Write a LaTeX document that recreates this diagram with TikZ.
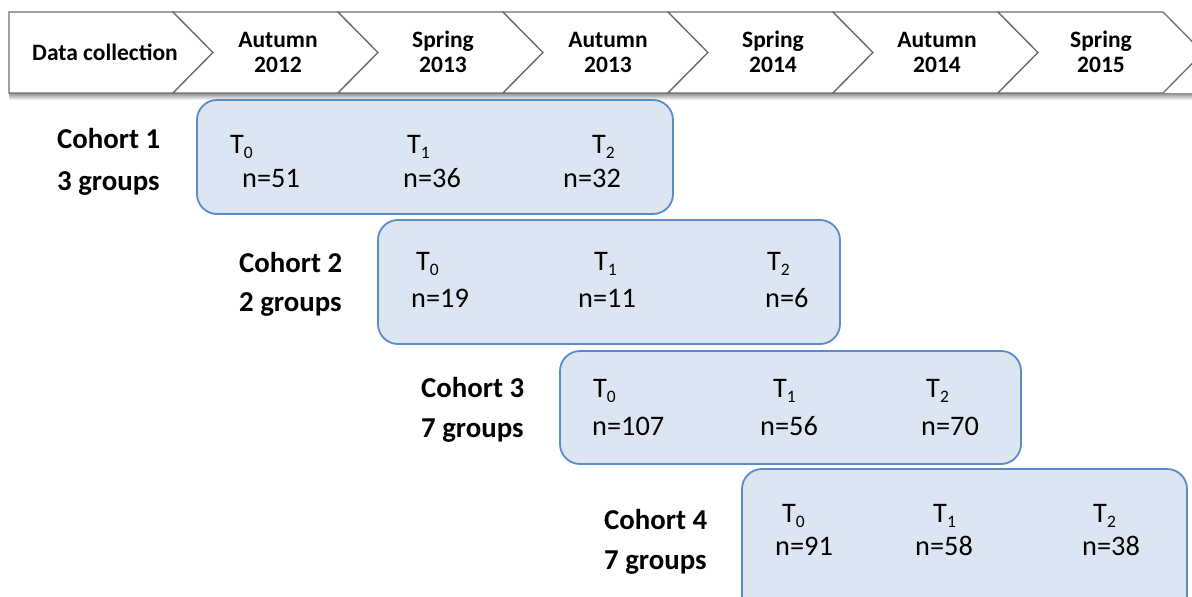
\documentclass[tikz,border=0pt]{standalone}
\usepackage{fontspec}
\setmainfont{Carlito}
\definecolor{boxfill}{RGB}{220,230,242}
\definecolor{boxline}{RGB}{91,139,201}
\definecolor{bannerline}{RGB}{110,110,110}
\newcommand\mysub[1]{\raisebox{-5.5pt}{\fontsize{17.5}{17.5}\selectfont #1}}
\begin{document}
\begin{tikzpicture}[x=1pt,y=-1pt,
 chev/.style={draw=bannerline, line width=1.3pt, fill=white, line join=miter},
 hdr/.style={font=\fontsize{23.5}{25}\selectfont\bfseries, anchor=base, inner sep=0pt},
 coh/.style={font=\fontsize{28.8}{42}\selectfont\bfseries, anchor=base west, inner sep=0pt},
 cbox/.style={draw=boxline, line width=1.8pt, fill=boxfill, rounded corners=20pt},
 val/.style={font=\fontsize{28.3}{30}\selectfont, anchor=base west, inner sep=0pt}]
\clip (0,0) rectangle (1192,597);
\fill[white] (0,0) rectangle (1192,597);
% banner shadow
\shade[top color=black!45, bottom color=white] (9,93) rectangle (1192,100);
% chevrons
\draw[chev] (9,12) -- (173,12) -- (213,52.5) -- (173,93) -- (9,93) -- cycle;
\foreach \k in {0,...,5}{
  \pgfmathsetmacro{\a}{173+165*\k}
  \draw[chev] (\a,12) -- ({\a+165},12) -- ({\a+205},52.5) -- ({\a+165},93) -- (\a,93) -- ({\a+40},52.5) -- cycle;
}
% header texts
\node[font=\fontsize{23.5}{25}\selectfont\bfseries, anchor=base west, inner sep=0pt] (dc) at (32,60) {Data collection};
\node[hdr] (h1a) at (278,47) {Autumn};  \node[hdr] (h1b) at (278,72) {2012};
\node[hdr] (h2a) at (443,47) {Spring};  \node[hdr] (h2b) at (443,72) {2013};
\node[hdr] (h3a) at (608,47) {Autumn};  \node[hdr] (h3b) at (608,72) {2013};
\node[hdr] (h4a) at (773,47) {Spring};  \node[hdr] (h4b) at (773,72) {2014};
\node[hdr] (h5a) at (937,47) {Autumn};  \node[hdr] (h5b) at (937,72) {2014};
\node[hdr] (h6a) at (1101,47) {Spring}; \node[hdr] (h6b) at (1101,72) {2015};
% cohort boxes
\draw[cbox] (197,100) rectangle (673,214);
\draw[cbox] (378,220) rectangle (840,344);
\draw[cbox] (560,351) rectangle (1021,464);
\draw[cbox] (742,469) rectangle (1187,620);
% cohort labels
\node[coh] (c1a) at (57,148) {Cohort 1};  \node[coh] (c1b) at (57,190) {3 groups};
\node[coh] (c2a) at (239,272) {Cohort 2}; \node[coh] (c2b) at (239,311) {2 groups};
\node[coh] (c3a) at (421,397) {Cohort 3}; \node[coh] (c3b) at (421,437) {7 groups};
\node[coh] (c4a) at (604,529) {Cohort 4}; \node[coh] (c4b) at (604,569) {7 groups};
% box 1
\node[val] (b1t0) at (230,153) {T\mysub{0}}; \node[val] (b1n0) at (242,187) {n=51};
\node[val] (b1t1) at (407,153) {T\mysub{1}}; \node[val] (b1n1) at (403,187) {n=36};
\node[val] (b1t2) at (592,153) {T\mysub{2}}; \node[val] (b1n2) at (563,187) {n=32};
% box 2
\node[val] (b2t0) at (416,270) {T\mysub{0}}; \node[val] (b2n0) at (411,307) {n=19};
\node[val] (b2t1) at (594,270) {T\mysub{1}}; \node[val] (b2n1) at (578,307) {n=11};
\node[val] (b2t2) at (767,270) {T\mysub{2}}; \node[val] (b2n2) at (765,307) {n=6};
% box 3
\node[val] (b3t0) at (593,397) {T\mysub{0}}; \node[val] (b3n0) at (592,435) {n=107};
\node[val] (b3t1) at (773,397) {T\mysub{1}}; \node[val] (b3n1) at (760,435) {n=56};
\node[val] (b3t2) at (926,397) {T\mysub{2}}; \node[val] (b3n2) at (921,435) {n=70};
% box 4
\node[val] (b4t0) at (782,522) {T\mysub{0}}; \node[val] (b4n0) at (775,555) {n=91};
\node[val] (b4t1) at (933,522) {T\mysub{1}}; \node[val] (b4n1) at (915,555) {n=58};
\node[val] (b4t2) at (1093,522) {T\mysub{2}}; \node[val] (b4n2) at (1082,555) {n=38};
\end{tikzpicture}
\end{document}
